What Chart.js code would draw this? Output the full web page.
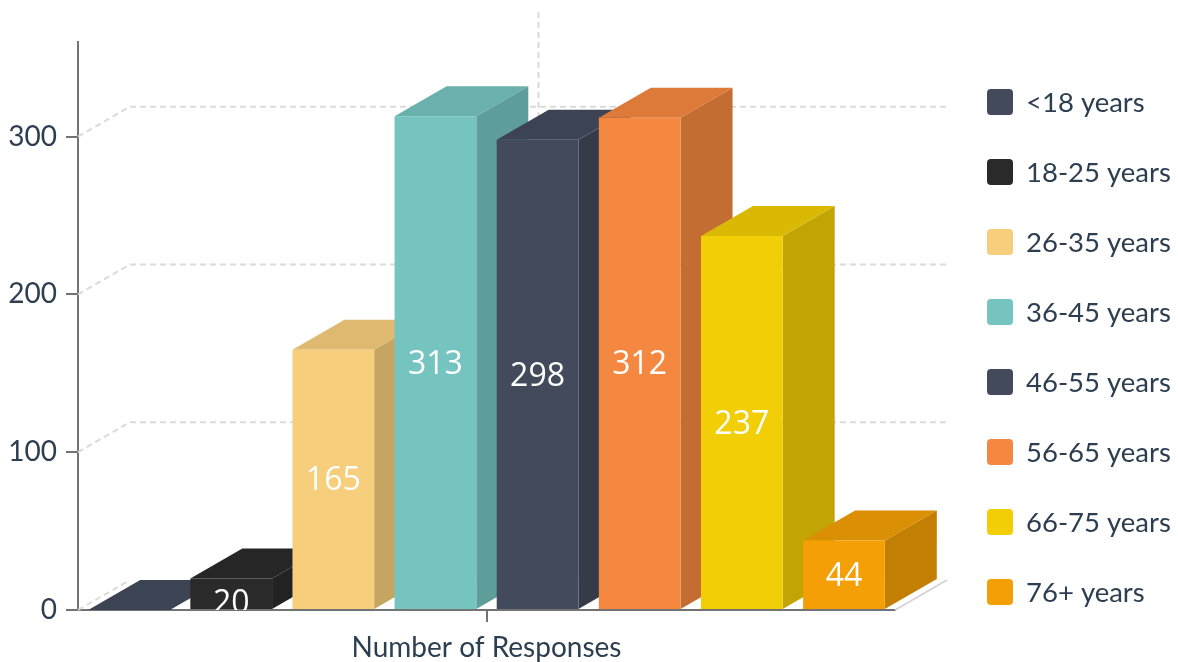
<!DOCTYPE html>
<html>
<head>
<meta charset="utf-8">
<script src="https://cdn.jsdelivr.net/npm/chart.js@4.4.1/dist/chart.umd.min.js"></script>
<style>
  html, body { margin: 0; padding: 0; background: #fff; }
</style>
</head>
<body>
<canvas id="chart" width="1178" height="662"></canvas>
<script>
// --- data ---
const CATEGORIES = ["Number of Responses"];
const AGE_GROUPS = ["<18 years", "18-25 years", "26-35 years", "36-45 years", "46-55 years", "56-65 years", "66-75 years", "76+ years"];
const RESPONSES = [0, 20, 165, 313, 298, 312, 237, 44];
const COLORS = ["#434a5c", "#2a2a2a", "#f7ce7b", "#76c4bf", "#434a5c", "#f58840", "#f2ce06", "#f39f05"];
const Y_TICKS = [0, 100, 200, 300];
const Y_MAX = 360;

// depth of the fake 3d box (px)
const DX = 52, DY = -30;
const TEXT = "#2c3e50";
const AXIS = "#737373";

function shade(hex, k) {
  const n = parseInt(hex.slice(1), 16);
  const r = Math.round(((n >> 16) & 255) * k);
  const g = Math.round(((n >> 8) & 255) * k);
  const b = Math.round((n & 255) * k);
  return `rgb(${r},${g},${b})`;
}

function poly(ctx, pts) {
  ctx.beginPath();
  ctx.moveTo(pts[0][0], pts[0][1]);
  pts.slice(1).forEach(p => ctx.lineTo(p[0], p[1]));
  ctx.closePath();
  ctx.fill();
}

// --- back walls + top/side faces ---
const depthPlugin = {
  id: "depth3d",
  beforeDatasetsDraw(chart) {
    const { ctx, chartArea: a, scales: { x, y } } = chart;
    ctx.save();
    ctx.strokeStyle = "#dadada";
    ctx.lineWidth = 2;
    ctx.setLineDash([6, 4]);
    Y_TICKS.forEach(v => {
      const py = y.getPixelForValue(v);
      ctx.beginPath();
      ctx.moveTo(a.left, py);
      ctx.lineTo(a.left + DX, py + DY);
      if (v > 0) ctx.lineTo(a.right + DX, py + DY);
      ctx.stroke();
    });
    const cx = x.getPixelForValue(0);
    ctx.beginPath();
    ctx.moveTo(cx + DX, a.top + DY);
    ctx.lineTo(cx + DX, a.bottom + DY);
    ctx.stroke();
    ctx.setLineDash([]);
    ctx.strokeStyle = "#d4d4d4";
    ctx.beginPath();
    ctx.moveTo(a.right, a.bottom);
    ctx.lineTo(a.right + DX, a.bottom + DY);
    ctx.stroke();

    chart.data.datasets.forEach((ds, i) => {
      const bar = chart.getDatasetMeta(i).data[0];
      const { x: bx, y: top, base, width } = bar.getProps(["x", "y", "base", "width"], true);
      const l = bx - width / 2, r = bx + width / 2;
      ctx.fillStyle = shade(ds.backgroundColor, 0.8);
      poly(ctx, [[r, top], [r + DX, top + DY], [r + DX, base + DY], [r, base]]);
      ctx.fillStyle = shade(ds.backgroundColor, 0.9);
      poly(ctx, [[l, top], [l + DX, top + DY], [r + DX, top + DY], [r, top]]);
    });
    ctx.restore();
  }
};

// --- value labels inside bars ---
const labelPlugin = {
  id: "valueLabels",
  afterDatasetsDraw(chart) {
    const { ctx, chartArea: a } = chart;
    ctx.save();
    ctx.beginPath();
    ctx.rect(a.left, 0, a.right - a.left, a.bottom);
    ctx.clip();
    ctx.font = "32px 'Open Sans'";
    ctx.fillStyle = "#ffffff";
    ctx.textAlign = "center";
    ctx.textBaseline = "middle";
    chart.data.datasets.forEach((ds, i) => {
      const v = ds.data[0];
      if (!v) return;
      const bar = chart.getDatasetMeta(i).data[0];
      const { x: bx, y: top, base } = bar.getProps(["x", "y", "base"], true);
      const cy = Math.max((top + base) / 2 + 2, top + 25);
      ctx.fillText(String(v), bx, cy);
    });
    ctx.restore();
  }
};

// --- legend on the right ---
const legendPlugin = {
  id: "sideLegend",
  afterDraw(chart) {
    const { ctx, chartArea: a } = chart;
    const x0 = a.right + 92;
    ctx.save();
    ctx.font = "27.5px Lato";
    ctx.textBaseline = "middle";
    ctx.textAlign = "left";
    chart.data.datasets.forEach((ds, i) => {
      const cy = 102 + i * 70;
      ctx.fillStyle = ds.backgroundColor;
      ctx.beginPath();
      ctx.roundRect(x0, cy - 13, 26, 26, 4);
      ctx.fill();
      ctx.fillStyle = TEXT;
      ctx.fillText(ds.label, x0 + 39, cy + 1);
    });
    ctx.restore();
  }
};

const ctx = document.getElementById("chart").getContext("2d");

new Chart(ctx, {
  type: "bar",
  data: {
    labels: CATEGORIES,
    datasets: AGE_GROUPS.map((name, i) => ({
      label: name,
      data: [RESPONSES[i]],
      backgroundColor: COLORS[i],
      borderWidth: 0,
      categoryPercentage: 1,
      barPercentage: 0.8
    }))
  },
  options: {
    responsive: false,
    devicePixelRatio: 1,
    animation: false,
    layout: { padding: { left: 0, right: 283, top: 42, bottom: 0 } },
    plugins: {
      legend: { display: false },
      tooltip: { enabled: false }
    },
    scales: {
      x: {
        z: 1,
        afterFit: s => { s.height = 52; },
        grid: { offset: false, drawOnChartArea: false, drawTicks: true, tickLength: 12, color: AXIS, lineWidth: 2 },
        border: { color: AXIS, width: 2 },
        ticks: { color: TEXT, font: { family: "Lato", size: 28 }, padding: 9 }
      },
      y: {
        min: 0,
        max: Y_MAX,
        afterFit: s => { s.width = 78; },
        afterBuildTicks: s => { s.ticks = s.ticks.filter(t => Y_TICKS.includes(t.value)); },
        grid: { drawOnChartArea: false, drawTicks: true, tickLength: 12, color: AXIS, lineWidth: 2 },
        border: { color: AXIS, width: 2 },
        ticks: { stepSize: 100, color: TEXT, font: { family: "Lato", size: 28 }, padding: 9 }
      }
    }
  },
  plugins: [depthPlugin, labelPlugin, legendPlugin]
});
</script>
</body>
</html>
